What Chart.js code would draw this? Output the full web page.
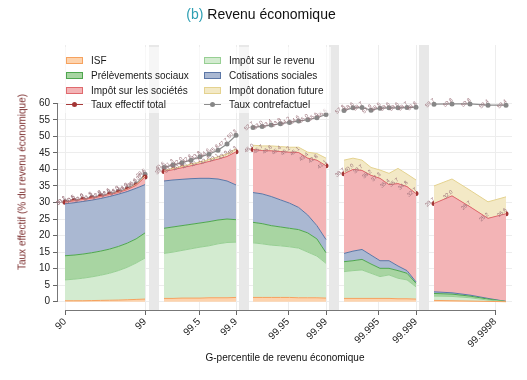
<!DOCTYPE html>
<html>
<head>
<meta charset="utf-8">
<script src="https://cdn.jsdelivr.net/npm/chart.js@4.4.1/dist/chart.umd.min.js"></script>
<style>
body { margin: 0; background: #fff; font-family: "Liberation Sans", Arial, sans-serif; }
#wrap { position: relative; width: 527px; height: 380px; }
#title { position: absolute; left: 0; width: 522px; top: 6px; text-align: center; font-size: 14px; color: #111; }
#legend { position: absolute; left: 59px; top: 47px; width: 272px; height: 66px; background: rgba(255,255,255,0.6); }
.item { position: absolute; font-size: 10px; color: #1a1a1a; white-space: nowrap; line-height: 12px; }
.sw { position: absolute; width: 15px; height: 5px; border: 1px solid; top: 2px; }
.ln { position: absolute; width: 17px; height: 0; top: 5px; border-top: 1.2px solid; }
.dot { position: absolute; width: 5px; height: 5px; border-radius: 50%; top: 3px; left: 6px; }
#ytitle { position: absolute; left: 22px; top: 182px; transform: translate(-50%, -50%) rotate(-90deg); font-size: 10px; color: #7b2d2d; white-space: nowrap; }
#xtitle { position: absolute; left: 285px; top: 357px; transform: translate(-50%, -50%); font-size: 10px; color: #111; white-space: nowrap; }
</style>
</head>
<body>
<div id="wrap">
  <canvas id="chart" width="527" height="380"></canvas>
  <div id="title"><span style="color:#2e9fb3">(b)</span> Revenu économique</div>
  <div id="legend"></div>
  <div id="ytitle">Taux effectif (% du revenu économique)</div>
  <div id="xtitle">G-percentile de revenu économique</div>
</div>
<script>
// one sub-array per block of G-percentiles: 90-99, 99-99.9, 99.9-99.99, 99.99-99.999, top
var isf = [
  [0.3, 0.3, 0.3, 0.35, 0.4, 0.45, 0.5, 0.6, 0.7, 0.8],
  [1.0, 1.0, 1.1, 1.1, 1.1, 1.2, 1.2, 1.2, 1.3],
  [1.3, 1.3, 1.3, 1.3, 1.3, 1.2, 1.2, 1.2, 1.1],
  [1.0, 1.0, 1.0, 1.0, 1.0, 1.0, 0.9, 0.9, 0.8],
  [0.4, 0.3, 0.2, 0.1, 0.0]
];
var impotRevenu = [
  [6.3, 6.5, 6.8, 7.15, 7.6, 8.15, 8.9, 9.8, 11.0, 12.4],
  [13.6, 14.0, 14.4, 14.9, 15.4, 15.7, 16.3, 16.7, 16.7],
  [16.5, 16.2, 15.8, 15.6, 15.3, 15.0, 13.8, 12.6, 10.5],
  [8.1, 8.4, 8.6, 7.6, 6.6, 7.1, 6.2, 5.7, 3.7],
  [1.3, 1.3, 1.0, 0.4, 0.05]
];
var prelevements = [
  [7.3, 7.3, 7.3, 7.3, 7.3, 7.3, 7.3, 7.3, 7.3, 7.6],
  [7.6, 7.6, 7.5, 7.4, 7.3, 7.3, 7.2, 7.1, 6.8],
  [6.2, 6.1, 5.9, 5.7, 5.6, 5.6, 5.8, 5.2, 3.2],
  [3.0, 3.0, 3.2, 2.8, 2.5, 2.0, 2.3, 2.0, 1.1],
  [0.8, 0.7, 0.5, 0.3, 0.03]
];
var cotisations = [
  [15.7, 15.8, 15.9, 15.9, 15.9, 15.9, 15.8, 15.6, 15.3, 14.6],
  [14.3, 14.2, 14.0, 13.8, 13.5, 13.1, 12.4, 11.5, 10.5],
  [9.0, 9.0, 8.8, 8.2, 7.6, 6.7, 5.4, 4.0, 4.0],
  [2.5, 2.9, 3.0, 2.7, 2.3, 2.3, 1.4, 0.8, 0.4],
  [0.5, 0.4, 0.3, 0.2, 0.02]
];
var impotSocietes = [
  [0.5, 0.6, 0.6, 0.6, 0.6, 0.6, 0.5, 0.6, 0.9, 2.3],
  [2.9, 3.1, 3.5, 3.9, 4.4, 5.1, 6.0, 7.4, 10.0],
  [13.0, 13.1, 13.8, 14.6, 15.4, 16.6, 17.2, 19.8, 22.3],
  [24.1, 24.7, 23.9, 24.1, 24.9, 23.0, 24.9, 25.4, 26.7],
  [26.7, 29.3, 26.7, 24.2, 26.5]
];
var donation = [
  [0, 0, 0, 0, 0, 0.05, 0.1, 0.1, 0.2, 0.3],
  [0.3, 0.4, 0.4, 0.5, 0.5, 0.6, 0.7, 0.8, 1.0],
  [1.3, 1.4, 1.5, 1.5, 1.5, 1.6, 1.8, 2.0, 2.3],
  [4.1, 3.4, 3.1, 2.4, 2.5, 3.4, 4.6, 3.8, 4.1],
  [5.3, 5.1, 5.0, 5.0, 5.1]
];
var tauxTotal = [
  [30.1, 30.5, 30.9, 31.3, 31.8, 32.4, 33.0, 33.9, 35.2, 37.7],
  [39.4, 39.9, 40.5, 41.1, 41.7, 42.4, 43.1, 43.9, 45.3],
  [46.0, 45.7, 45.6, 45.4, 45.2, 45.1, 43.4, 42.8, 41.1],
  [38.7, 40.0, 39.7, 38.2, 37.3, 35.4, 35.7, 34.8, 32.7],
  [29.7, 32.0, 28.7, 25.2, 26.6]
];
var tauxContrefactuel = [
  [30.2, 30.6, 31.0, 31.5, 32.0, 32.6, 33.3, 34.2, 35.6, 38.5],
  [40.6, 41.3, 42.0, 42.8, 43.8, 44.6, 45.8, 47.7, 50.3],
  [52.7, 53.0, 53.4, 53.8, 54.2, 54.6, 55.0, 55.6, 56.6],
  [57.8, 58.6, 58.7, 57.9, 58.5, 58.6, 58.6, 58.7, 58.8],
  [59.7, 59.8, 59.8, 59.4, 59.4]
];
var tickLabels = ['90', '99', '99.5', '99.9', '99.95', '99.99', '99.995', '99.999', '99.9998'];
var yTicks = [0, 5, 10, 15, 20, 25, 30, 35, 40, 45, 50, 55, 60];

// layout of the broken x axis (axis units = pixels)
var panelSpan = [[65, 145], [164, 236], [253, 326], [344, 416], [434, 506]];
var breakBars = [[149, 159], [239, 249], [329, 339], [419, 429]];
var tickPos = [65, 145, 199, 236, 288, 326, 378, 416, 495];

function toPoints(series) {
  var pts = [];
  series.forEach(function (vals, p) {
    var a = panelSpan[p][0], b = panelSpan[p][1], n = vals.length;
    vals.forEach(function (v, i) {
      pts.push({ x: a + (b - a) * i / (n - 1), y: v });
    });
    if (p < breakBars.length) pts.push({ x: (breakBars[p][0] + breakBars[p][1]) / 2, y: null });
  });
  return pts;
}

function area(label, data, bg, bd, first) {
  return {
    label: label, data: toPoints(data), stack: 'taxes',
    backgroundColor: bg, borderColor: bd, borderWidth: 1,
    fill: first ? 'origin' : '-1', pointRadius: 0, tension: 0
  };
}

var datasets = [
  area('ISF', isf, '#fdd3ad', '#f6a25f', true),
  area('Impôt sur le revenu', impotRevenu, '#d3ebd0', '#97cf93'),
  area('Prélèvements sociaux', prelevements, '#a8d5a2', '#4ea64e'),
  area('Cotisations sociales', cotisations, '#aab8d2', '#5b76a6'),
  area('Impôt sur les sociétés', impotSocietes, '#f3b4b6', '#e06a6e'),
  area('Impôt donation future', donation, '#f3e9c6', '#e4d28f'),
  {
    label: 'Taux effectif total', data: toPoints(tauxTotal), stack: 'tot',
    borderColor: '#a83a3a', backgroundColor: '#a33535', borderWidth: 1.2,
    pointRadius: 2.5, pointBorderWidth: 0, fill: false, tension: 0
  },
  {
    label: 'Taux contrefactuel', data: toPoints(tauxContrefactuel), stack: 'cf',
    borderColor: '#8d8d8d', backgroundColor: '#878787', borderWidth: 1.2,
    pointRadius: 2.5, pointBorderWidth: 0, fill: false, tension: 0
  }
];

// grey bars marking the axis breaks
var breakPlugin = {
  id: 'breaks',
  beforeDatasetsDraw: function (chart) {
    var ctx = chart.ctx, x = chart.scales.x, a = chart.chartArea;
    ctx.save();
    ctx.fillStyle = '#e8e8e8';
    breakBars.forEach(function (b) {
      var x0 = x.getPixelForValue(b[0]), x1 = x.getPixelForValue(b[1]);
      ctx.fillRect(x0, a.top, x1 - x0, a.bottom - a.top);
    });
    ctx.restore();
  },
  afterDatasetsDraw: function (chart) {
    var ctx = chart.ctx, x = chart.scales.x, y = chart.scales.y, a = chart.chartArea;
    ctx.save();
    ctx.strokeStyle = '#777';
    ctx.lineWidth = 1;
    ctx.beginPath();
    ctx.moveTo(x.getPixelForValue(tickPos[0]), a.bottom + 0.5);
    ctx.lineTo(x.getPixelForValue(tickPos[tickPos.length - 1]), a.bottom + 0.5);
    ctx.moveTo(a.left - 0.5, y.getPixelForValue(yTicks[0]));
    ctx.lineTo(a.left - 0.5, y.getPixelForValue(yTicks[yTicks.length - 1]));
    ctx.stroke();

    // small value labels above the two rate lines
    ctx.font = '5.5px "Liberation Sans", Arial, sans-serif';
    ctx.fillStyle = '#9a6f78';
    ctx.textAlign = 'right';
    ctx.textBaseline = 'bottom';
    [6, 7].forEach(function (di) {
      var meta = chart.getDatasetMeta(di);
      var raw = chart.data.datasets[di].data;
      meta.data.forEach(function (pt, i) {
        if (raw[i].y === null) return;
        ctx.save();
        ctx.translate(pt.x + 2, pt.y - 2.5);
        ctx.rotate(-0.7);
        ctx.fillText(raw[i].y.toFixed(1), 0, 0);
        ctx.restore();
      });
    });
    ctx.restore();
  }
};

var tickFont = { family: '"Liberation Sans", Arial, sans-serif', size: 10 };

var ctx = document.getElementById('chart').getContext('2d');
var chart = new Chart(ctx, {
  type: 'line',
  data: { datasets: datasets },
  options: {
    responsive: false,
    animation: false,
    layout: { padding: { left: 0, right: 15, top: 45, bottom: 0 } },
    scales: {
      x: {
        type: 'linear', min: 58, max: 512,
        afterBuildTicks: function (s) { s.ticks = tickPos.map(function (v) { return { value: v }; }); },
        afterFit: function (s) { s.height = 70; },
        ticks: {
          font: tickFont, color: '#222', autoSkip: false, minRotation: 45, maxRotation: 45, padding: 1,
          callback: function (v, i) { return tickLabels[i]; }
        },
        grid: { color: '#ededed', tickColor: '#666', tickLength: 5 },
        border: { display: false }
      },
      y: {
        stacked: true, min: -2.5, max: 77.6,
        afterBuildTicks: function (s) { s.ticks = yTicks.map(function (v) { return { value: v }; }); },
        afterFit: function (s) { s.width = 58; },
        ticks: { font: tickFont, color: '#222', padding: 3, callback: function (v) { return String(v); } },
        grid: { color: '#ededed', tickColor: '#666', tickLength: 5 },
        border: { display: false }
      }
    },
    plugins: {
      legend: { display: false },
      tooltip: { enabled: false }
    }
  },
  plugins: [breakPlugin]
});

// legend in two columns
var legend = document.getElementById('legend');
datasets.forEach(function (ds, k) {
  var col = k % 2, row = Math.floor(k / 2);
  var el = document.createElement('div');
  el.className = 'item';
  el.style.left = (col === 0 ? 7 : 145) + 'px';
  el.style.top = (8 + row * 14.8) + 'px';
  var mark;
  if (k < 6) {
    mark = '<span class="sw" style="left:0;background:' + ds.backgroundColor + ';border-color:' + ds.borderColor + '"></span>';
  } else {
    mark = '<span class="ln" style="left:0;border-color:' + ds.borderColor + '"></span>' +
      '<span class="dot" style="background:' + ds.backgroundColor + '"></span>';
  }
  el.innerHTML = mark + '<span style="margin-left:25px">' + ds.label + '</span>';
  legend.appendChild(el);
});
</script>
</body>
</html>
